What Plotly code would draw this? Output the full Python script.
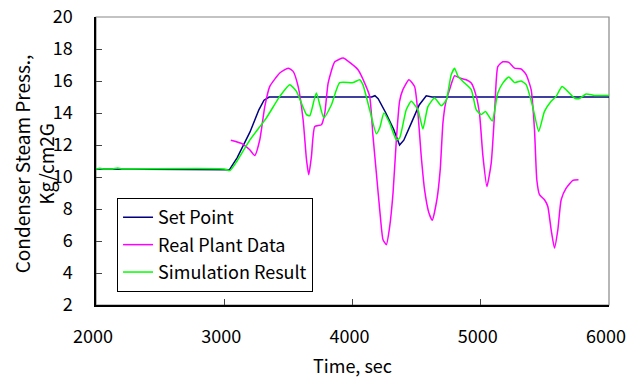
import plotly.graph_objects as go

# Set Point
sp_t = [2000, 3040, 3100, 3200, 3270, 3310, 3350, 4150, 4175, 4200, 4260, 4320, 4367, 4400, 4460, 4520, 4575, 4620, 6000]
sp_v = [10.5, 10.45, 11.2, 12.8, 14.2, 14.8, 15.0, 15.0, 15.08, 14.9, 14.0, 13.0, 12.0, 12.3, 13.4, 14.5, 15.08, 15.0, 15.0]

# Real Plant Data
rp_t = [3051, 3134, 3199, 3238, 3277, 3316, 3355, 3433, 3498, 3537, 3576, 3615, 3641, 3659, 3680, 3706, 3758, 3784,
        3810, 3862, 3927, 3978, 4043, 4095, 4134, 4160, 4186, 4217, 4238, 4264, 4290, 4316, 4342, 4367, 4393,
        4440, 4484, 4510, 4536, 4562, 4596, 4622, 4658, 4684, 4705, 4726, 4757, 4796, 4835, 4887, 4926, 4965,
        4991, 5017, 5048, 5082, 5108, 5133, 5172, 5219, 5263, 5315, 5354, 5393, 5419, 5437, 5458, 5497, 5523,
        5549, 5575, 5601, 5627, 5666, 5718, 5762]
rp_v = [12.3, 12.1, 11.7, 11.35, 12.33, 14.4, 15.66, 16.5, 16.8, 16.6, 15.66, 13.58, 11.1, 10.14, 11.3, 13.16, 13.27, 14.0,
        15.87, 17.2, 17.43, 17.16, 16.7, 15.87, 15.04, 12.54, 10.25, 7.54, 6.08, 5.77, 6.9, 9.0, 12.33, 14.73, 15.46,
        16.08, 15.66, 14.0, 11.3, 9.2, 7.75, 7.3, 8.58, 10.46, 13.37, 14.62, 15.46, 16.33, 16.19, 16.08, 15.87, 15.04,
        13.9, 11.3, 9.4, 10.9, 14.0, 16.9, 17.2, 17.16, 16.8, 16.75, 16.4, 15.46, 12.96, 9.83, 8.9, 8.58, 8.16,
        6.7, 5.56, 6.7, 8.58, 9.3, 9.79, 9.83]

# Simulation Result
sim_t = [2000, 2030, 2060, 2090, 2130, 2170, 2200, 2230, 3000, 3044, 3100, 3199, 3329, 3433, 3511, 3563, 3641, 3667,
         3718, 3776, 3835, 3900, 4004, 4056, 4081, 4134, 4186, 4212, 4245, 4290, 4342, 4367, 4419, 4458,
         4510, 4549, 4588, 4640, 4692, 4731, 4770, 4796, 4822, 4874, 4926, 4965, 5004, 5037, 5089, 5133,
         5172, 5219, 5263, 5315, 5354, 5405, 5452, 5497, 5549, 5588, 5634, 5678, 5730, 5769, 5821, 5886, 6000]
sim_v = [10.5, 10.55, 10.5, 10.5, 10.5, 10.56, 10.5, 10.5, 10.5, 10.4, 11.0, 12.3, 13.7, 15.04, 15.77, 15.35, 13.9, 13.83,
         15.25, 13.7, 14.5, 15.9, 15.9, 16.08, 15.77, 14.2, 12.7, 13.06, 14.0, 13.37, 12.33, 12.43, 14.2, 14.73,
         14.2, 13.0, 14.4, 14.94, 14.45, 14.8, 16.4, 16.8, 16.3, 15.87, 15.46, 14.2, 13.9, 14.1, 13.5, 15.25,
         15.87, 16.25, 15.9, 16.0, 15.77, 14.4, 12.85, 14.1, 14.73, 15.04, 15.66, 15.35, 14.94, 14.9, 15.19, 15.1, 15.1]

x_ticks = [2000, 3000, 4000, 5000, 6000]
y_ticks = [2, 4, 6, 8, 10, 12, 14, 16, 18, 20]

FONT = "Noto Sans CJK JP"

fig = go.Figure()
fig.add_trace(go.Scatter(x=sp_t, y=sp_v, mode="lines", name="Set Point", legendgroup="a",
                         line=dict(color="#000080", width=1.5)))
fig.add_trace(go.Scatter(x=rp_t, y=rp_v, mode="lines", name="Real Plant Data", legendgroup="b",
                         line=dict(color="#FF00FF", width=1.5, shape="spline", smoothing=0.5)))
fig.add_trace(go.Scatter(x=sim_t, y=sim_v, mode="lines", name="Simulation Result", legendgroup="c",
                         line=dict(color="#00FF00", width=1.5, shape="spline", smoothing=0.5)))

fig.add_shape(type="rect", xref="paper", yref="paper", x0=0, y0=0, x1=1, y1=1,
              line=dict(color="#888888", width=1.2), layer="below")

fig.update_layout(
    width=628, height=377,
    margin=dict(l=96, r=19, t=17, b=72, autoexpand=False),
    paper_bgcolor="white", plot_bgcolor="white",
    font=dict(family=FONT, size=18, color="black"),
    showlegend=True,
    legend=dict(x=0.041, y=0.045, xanchor="left", yanchor="bottom",
                bgcolor="white", bordercolor="black", borderwidth=1,
                font=dict(family=FONT, size=18), tracegroupgap=1, traceorder="grouped",
                itemwidth=30),
    xaxis=dict(range=[2000, 6000], tickvals=x_ticks, ticks="inside", ticklen=6,
               showline=True, linecolor="black", linewidth=1.5, showgrid=False, zeroline=False,
               automargin=False,
               ticklabelstandoff=15, ticklabelshift=-3, ticklabeloverflow="allow",
               tickfont=dict(size=18)),
    yaxis=dict(range=[2, 20], tickvals=y_ticks, ticks="inside", ticklen=6,
               showline=True, linecolor="black", linewidth=1.5, showgrid=False, zeroline=False,
               automargin=False,
               ticklabelstandoff=18,
               tickfont=dict(size=18)),
)

fig.add_annotation(text="Time, sec", xref="paper", yref="paper", x=0.5, y=-0.208,
                   xanchor="center", yanchor="middle", showarrow=False,
                   font=dict(family=FONT, size=18, color="black"))
fig.add_annotation(text="Condenser Steam Press.,<br>Kg/cm2G", xref="paper", yref="paper",
                   x=-0.122, y=0.49, xanchor="center", yanchor="middle", showarrow=False,
                   textangle=-90, font=dict(family=FONT, size=19, color="black"))

fig.write_html("out.html")
